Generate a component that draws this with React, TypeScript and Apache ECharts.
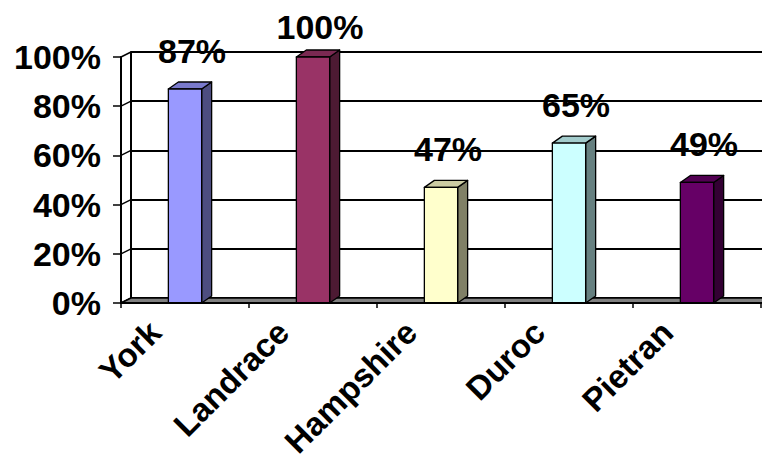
import React, { useEffect, useRef } from "react";
import * as echarts from "echarts";

const categories = ["York", "Landrace", "Hampshire", "Duroc", "Pietran"];
const values = [87, 100, 47, 65, 49];
const yTicks = [0, 20, 40, 60, 80, 100];

const frontColors = ["#9999FF", "#993366", "#FFFFCC", "#CCFFFF", "#660066"];

function shade(hex: string, f: number): string {
  const n = parseInt(hex.slice(1), 16);
  const r = Math.round(((n >> 16) & 255) * f);
  const g = Math.round(((n >> 8) & 255) * f);
  const b = Math.round((n & 255) * f);
  return "rgb(" + r + "," + g + "," + b + ")";
}

const FONT = "'Liberation Sans', Arial, sans-serif";
const DX = 10;
const DY = -7;
const WX = 10;
const WY = -5;

export default function App() {
  const ref = useRef<HTMLDivElement>(null);
  useEffect(() => {
    if (!ref.current) return;
    const chart = echarts.init(ref.current, undefined, { renderer: "svg" });
    const option: any = {
      animation: false,
      backgroundColor: "#ffffff",
      grid: [
        { left: 121, right: 1, top: 57, bottom: 158 },
        { left: 121 + WX, right: 0, top: 57 + WY, bottom: 158 - WY },
        { left: 91, right: 31, top: 57, bottom: 158 },
      ],
      xAxis: [
        {
          type: "category",
          gridIndex: 0,
          data: categories,
          axisLine: { show: true, lineStyle: { color: "#000", width: 2 } },
          axisTick: { show: true, length: 5, lineStyle: { color: "#000", width: 1.5 } },
          axisLabel: { show: false },
          z: 5,
        },
        { type: "category", gridIndex: 1, data: categories, show: false },
        {
          type: "category",
          gridIndex: 2,
          data: categories,
          axisLine: { show: false },
          axisTick: { show: false },
          axisLabel: {
            show: true,
            rotate: 45,
            margin: 34,
            color: "#000",
            fontWeight: "bold",
            fontSize: 33,
            fontFamily: FONT,
          },
        },
      ],
      yAxis: [
        {
          type: "value",
          gridIndex: 0,
          min: 0,
          max: 100,
          interval: 20,
          axisLine: { show: true, lineStyle: { color: "#000", width: 2 } },
          axisTick: { show: true, length: 8, lineStyle: { color: "#000", width: 1.5 } },
          splitLine: { show: false },
          axisLabel: {
            formatter: "{value}%",
            margin: 20,
            color: "#000",
            fontWeight: "bold",
            fontSize: 34,
            fontFamily: FONT,
          },
          z: 5,
        },
        {
          type: "value",
          gridIndex: 1,
          min: 0,
          max: 100,
          interval: 20,
          axisLine: { show: true, lineStyle: { color: "#000", width: 2 } },
          axisTick: { show: false },
          axisLabel: { show: false },
          splitLine: { show: true, lineStyle: { color: "#000", width: 2 } },
        },
        { type: "value", gridIndex: 2, min: 0, max: 100, show: false },
      ],
      series: [
        {
          type: "custom",
          xAxisIndex: 0,
          yAxisIndex: 0,
          z: 2,
          data: yTicks.map((v) => [0, v]),
          renderItem: (params: any, api: any) => {
            const p = api.coord([0, api.value(1)]);
            const bw = api.size([1, 0])[0];
            const left = p[0] - bw / 2;
            return {
              type: "line",
              shape: { x1: left, y1: p[1], x2: left + WX, y2: p[1] + WY },
              style: { stroke: "#000", lineWidth: 1.5 },
            };
          },
        },
        {
          type: "custom",
          xAxisIndex: 0,
          yAxisIndex: 0,
          z: 3,
          data: [[0, 0]],
          renderItem: (params: any, api: any) => {
            const bw = api.size([1, 0])[0];
            const a = api.coord([0, 0]);
            const b = api.coord([categories.length - 1, 0]);
            const left = a[0] - bw / 2;
            const right = b[0] + bw / 2;
            const y0 = a[1];
            return {
              type: "polygon",
              shape: {
                points: [
                  [left, y0],
                  [left + WX, y0 + WY],
                  [right + WX, y0 + WY],
                  [right, y0],
                ],
              },
              style: { fill: "#808080", stroke: "#000", lineWidth: 1.5 },
            };
          },
        },
        {
          type: "custom",
          xAxisIndex: 0,
          yAxisIndex: 0,
          z: 4,
          data: values.map((v, i) => [i, v]),
          encode: { x: 0, y: 1 },
          renderItem: (params: any, api: any) => {
            const i = api.value(0);
            const v = api.value(1);
            const base = api.coord([i, 0]);
            const top = api.coord([i, v]);
            const bw = api.size([1, 0])[0];
            const w = bw * 0.26;
            const x0 = base[0] - w / 2;
            const x1 = base[0] + w / 2;
            const yb = base[1];
            const yt = top[1];
            const c = frontColors[i % frontColors.length];
            const stroke = { stroke: "#000", lineWidth: 1.3, lineJoin: "round" };
            const capBottom = Math.max(yt - 27, 38);
            return {
              type: "group",
              children: [
                {
                  type: "polygon",
                  shape: {
                    points: [
                      [x1, yt],
                      [x1 + DX, yt + DY],
                      [x1 + DX, yb + DY],
                      [x1, yb],
                    ],
                  },
                  style: { fill: shade(c, 0.5), ...stroke },
                },
                {
                  type: "polygon",
                  shape: {
                    points: [
                      [x0, yt],
                      [x0 + DX, yt + DY],
                      [x1 + DX, yt + DY],
                      [x1, yt],
                    ],
                  },
                  style: { fill: shade(c, 0.8), ...stroke },
                },
                {
                  type: "rect",
                  shape: { x: x0, y: yt, width: w, height: yb - yt },
                  style: { fill: c, ...stroke },
                },
                {
                  type: "text",
                  x: base[0] + 7,
                  y: capBottom - 11,
                  style: {
                    text: Math.round(v) + "%",
                    fill: "#000",
                    font: "bold 34px " + FONT,
                    align: "center",
                    verticalAlign: "middle",
                  },
                },
              ],
            };
          },
        },
      ],
    };
    chart.setOption(option);
    return () => chart.dispose();
  }, []);
  return (
    <div
      ref={ref}
      style={{ position: "fixed", left: 0, top: 0, width: 762, height: 461, background: "#fff" }}
    />
  );
}
